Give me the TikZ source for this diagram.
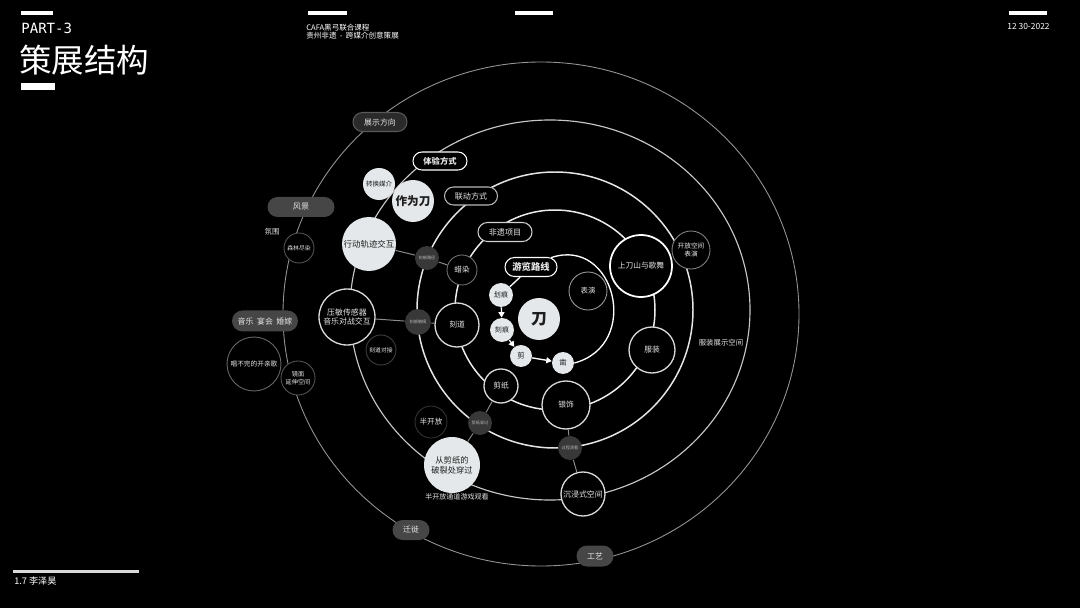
\documentclass[tikz,border=0pt]{standalone}
\usepackage{fontspec}
\setmainfont{Noto Sans CJK SC}
\newfontfamily\monof{DejaVu Sans Mono}
\usetikzlibrary{arrows.meta,shapes.misc}
\newcommand{\fsz}[2]{\fontsize{#1pt}{#2pt}\selectfont}
\definecolor{lightfill}{HTML}{E4E8EA}
\definecolor{darktxt}{HTML}{1E1E1E}
\definecolor{txtw}{HTML}{E6E6E6}
\definecolor{dkfill}{HTML}{383838}
\definecolor{pillgray}{HTML}{464646}
\definecolor{pilldark}{HTML}{2A2A2A}
\tikzset{
  every node/.style={inner sep=0pt, align=center, text=txtw},
  rad/.style={minimum size=#1*0.04cm},
  pw/.style={minimum width=#1*0.02cm},
  ph/.style={minimum height=#1*0.02cm},
  lightc/.style={circle, fill=lightfill, text=darktxt},
  blackc/.style={circle, fill=black, draw=#1, line width=0.75pt},
  dimc/.style={circle, fill=black, draw=#1, line width=0.5pt},
  darkc/.style={circle, fill=dkfill, text=white!70!black, font=\fsz{2.4}{2.8}, rad=12},
  pill/.style={rounded rectangle, line width=0.6pt},
  ringE/.style={draw=white!58!black, line width=0.5pt},
  ringD/.style={draw=white!78!black, line width=0.65pt},
  ringC/.style={draw=white!90!black, line width=0.85pt},
  ringB/.style={draw=white!92!black, line width=0.85pt},
  conn/.style={draw=white!55!black, line width=0.55pt},
  route/.style={draw=white, line width=0.75pt},
  routearr/.style={route, -{Triangle[length=0.11cm,width=0.12cm]}},
}
\begin{document}
\begin{tikzpicture}[x=0.02cm,y=-0.02cm]
\fill[black] (0,0) rectangle (1080,608);
\useasboundingbox (0,0) rectangle (1080,608);

% header
\fill[white] (21,11) rectangle (53,15);
\node[anchor=west, font=\monof\fsz{8}{9}, text=white] (part) at (21,28) {PART-3};
\node[anchor=west, font=\fsz{18.5}{20}, text=white] (title) at (19,60) {策展结构};
\fill[white] (21,83) rectangle (55,90);
\fill[white] (308,11) rectangle (347,15);
\fill[white] (515,11) rectangle (553,15);
\node[anchor=west, align=left, font=\fsz{4.3}{4.6}, text=white] (course) at (306,32) {CAFA黑弓联合课程\\贵州非遗 \ - \ 跨媒介创意策展};
\fill[white] (1009,11) rectangle (1047,15);
\node[anchor=west, font=\fsz{4.8}{5.5}, text=white] (date) at (1007,26.5) {12 30-2022};
\fill[white!85!black] (13,570) rectangle (139,573);
\node[anchor=west, font=\fsz{5.2}{6}, text=white] (author) at (14,581) {1.7 李泽昊};

% rings
\draw[ringE] (541,314) ellipse [x radius=258, y radius=252];
\draw[ringD] (550,310) ellipse [x radius=200, y radius=190];
\draw[ringC] (555,310) circle [radius=138];
\draw[ringB] (555,310) circle [radius=100];

% pills
\node[pill, fill=pilldark, draw=white!35!black, pw=54, ph=19, font=\fsz{4.5}{5}] (zsfx) at (380,122) {展示方向};
\node[pill, fill=pillgray, pw=67, ph=20, font=\fsz{4.6}{5}] (fj) at (301,207) {风景};
\node[pill, fill=black, draw=white, pw=54, ph=18, font=\bfseries\fsz{4.7}{5}] (tyfs) at (440,161) {体验方式};
\node[pill, fill=black, draw=white!72!black, pw=53, ph=18, font=\fsz{4.6}{5}] (ldfs) at (471,196) {联动方式};
\node[pill, fill=black, draw=white!82!black, pw=54, ph=19, font=\fsz{4.6}{5}] (fyxm) at (505,232) {非遗项目};
\node[pill, fill=black, draw=white, pw=52, ph=19, font=\bfseries\fsz{5.3}{6}] (ylxl) at (531,267) {游览路线};
\node[pill, fill=pillgray, pw=66, ph=21, font=\fsz{4.5}{5}] (yyhj) at (265,321) {音乐\ \ 宴会\ \ 婚嫁};
\node[pill, fill=pillgray, pw=37, ph=20, font=\fsz{4.5}{5}] (qx) at (411,530) {迁徙};
\node[pill, fill=pillgray, pw=37, ph=21, font=\fsz{4.5}{5}] (gy) at (595,556) {工艺};

% light circles
\node[lightc, rad=16, font=\fsz{3.7}{4.2}] (zh) at (379,184) {转换媒介};
\node[lightc, rad=21, font=\bfseries\fsz{6.6}{7}] (zwd) at (413,201) {作为刀};
\node[lightc, rad=27, font=\fsz{4.8}{5.4}] (xd) at (369,244) {行动轨迹交互};
\node[lightc, rad=12, font=\fsz{4}{4.5}] (hh) at (501,295) {划痕};
\node[lightc, rad=12, font=\fsz{4}{4.5}] (kh) at (502,330) {刻痕};
\node[lightc, rad=11, font=\fsz{4.2}{4.5}] (jian) at (521,356) {剪};
\node[lightc, rad=11, font=\fsz{4.2}{4.5}] (zao) at (563,363) {凿};
\node[lightc, rad=21, font=\bfseries\fsz{9}{10}] (dao) at (539,319) {刀};
\node[lightc, rad=28, font=\fsz{4.7}{5.8}] (cjz) at (452,465) {从剪纸的\\破裂处穿过};

% black circles
\node[blackc=white, rad=31, line width=1pt, font=\fsz{4.4}{5}] (sds) at (641,266) {上刀山与歌舞};
\node[blackc=white!85!black, rad=23, font=\fsz{4.4}{5}] (fz) at (652,350) {服装};
\node[blackc=white!85!black, rad=22, font=\fsz{4.4}{5}] (kd) at (457,325) {刻道};
\node[blackc=white!85!black, rad=17, font=\fsz{4.4}{5}] (jz) at (501,386) {剪纸};
\node[blackc=white!85!black, rad=24, font=\fsz{4.4}{5}] (ys) at (566,405) {银饰};
\node[blackc=white!85!black, rad=22, font=\fsz{4.5}{5}] (cjs) at (583,494) {沉浸式空间};
\node[blackc=white!85!black, rad=28, font=\fsz{4.5}{5.6}] (ym) at (347,317) {压敏传感器\\音乐对战交互};

% dim circles
\node[dimc=white!60!black, rad=19, font=\fsz{4.2}{5}] (by) at (588,291) {表演};
\node[dimc=white!50!black, rad=19, font=\fsz{3.8}{5}] (kf) at (691,250) {开放空间\\表演};
\node[dimc=white!45!black, rad=15, font=\fsz{4.3}{5}] (lr) at (462,270) {蜡染};
\node[dimc=white!33!black, rad=15, font=\fsz{3.3}{4}] (sl) at (299,248) {森林尽染};
\node[dimc=white!40!black, rad=27, font=\fsz{3.8}{4.5}] (cb) at (254,364) {唱不完的开亲歌};
\node[dimc=white!33!black, rad=17, font=\fsz{3.5}{4.6}] (jm) at (298,378) {镜面\\延伸空间};
\node[dimc=white!25!black, rad=15, font=\fsz{3.3}{4}] (kddj) at (381,350) {刻道对接};
\node[dimc=white!20!black, rad=16, font=\fsz{4.3}{5}] (bkf) at (431,422) {半开放};

% dark small circles
\node[darkc] (khlj) at (427,258) {刻痕路径};
\node[darkc, rad=13] (khcm) at (418,322) {刻痕触摸};
\node[darkc] (jzcg) at (480,423) {剪纸穿过};
\node[darkc] (gcgk) at (570,448) {过程观看};

% free texts
\node[font=\fsz{4.2}{5}] (fw) at (272,232) {氛围};
\node[font=\fsz{4.2}{5}] (fzzs) at (721,343) {服装展示空间};
\node[font=\fsz{4}{5}] (bkftd) at (457,497) {半开放通道游戏观看};

% connectors
\draw[conn] (xd) -- (khlj);
\draw[conn] (khlj) -- (lr);
\draw[conn] (ym) -- (khcm);
\draw[conn] (khcm) -- (kd);
\draw[conn] (jz) -- (jzcg);
\draw[conn] (jzcg) -- (cjz);
\draw[conn] (ys) -- (gcgk);
\draw[conn] (gcgk) -- (cjs);

% route
\draw[route] (ylxl) -- (hh);
\draw[routearr] (hh) -- (kh);
\draw[routearr] (kh) -- (jian);
\draw[routearr] (jian) -- (zao);
\draw[route] (ylxl.25) .. controls (615,236) and (642,345) .. (zao.east);
\end{tikzpicture}
\end{document}
